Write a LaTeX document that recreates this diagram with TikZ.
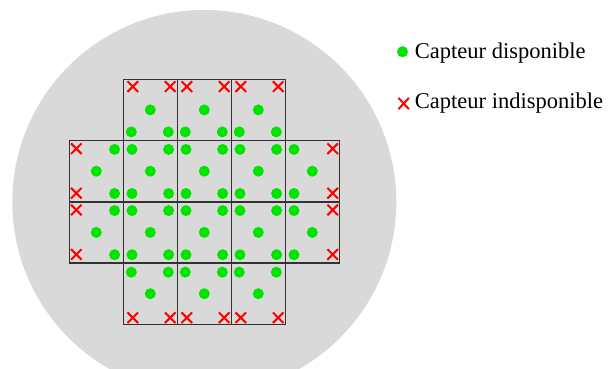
\documentclass[tikz,border=0pt]{standalone}
\usepackage{fontspec}
\setmainfont{Liberation Serif}
\definecolor{disk}{RGB}{217,217,217}
\definecolor{okgreen}{RGB}{0,228,0}
\definecolor{badred}{RGB}{255,0,0}
\definecolor{edge}{RGB}{50,50,50}
\begin{document}
\begin{tikzpicture}[x=1pt,y=-1pt,
  cell/.style={draw=edge,line width=1.5pt},
  okdot/.style={fill=okgreen},
  badx/.style={draw=badred,line width=2pt},
  legend/.style={anchor=base west,inner sep=0pt,font=\fontsize{22.5}{26}\selectfont}]
\useasboundingbox (0,0) rectangle (608,369);
\clip (0,0) rectangle (608,369);
\fill[disk] (204.3,202) circle (192);
% cells: center x, center y, type
\foreach \cx/\cy/\t in {150.3/109.9/T,204.3/109.9/T,258.3/109.9/T,
  96.3/171.2/L,150.3/171.2/N,204.3/171.2/N,258.3/171.2/N,312.3/171.2/R,
  96.3/232.4/L,150.3/232.4/N,204.3/232.4/N,258.3/232.4/N,312.3/232.4/R,
  150.3/293.7/B,204.3/293.7/B,258.3/293.7/B}{
  \draw[cell] (\cx-27,\cy-30.6) rectangle (\cx+27,\cy+30.6);
  \fill[okdot] (\cx,\cy) circle (5.5);
  \if\t T
    \draw[badx] (\cx-17.5-5.3,\cy-23.3-5.3) -- (\cx-17.5+5.3,\cy-23.3+5.3) (\cx-17.5-5.3,\cy-23.3+5.3) -- (\cx-17.5+5.3,\cy-23.3-5.3);
    \draw[badx] (\cx+19.9-5.3,\cy-23.3-5.3) -- (\cx+19.9+5.3,\cy-23.3+5.3) (\cx+19.9-5.3,\cy-23.3+5.3) -- (\cx+19.9+5.3,\cy-23.3-5.3);
    \fill[okdot] (\cx-19,\cy+22) circle (5.5);
    \fill[okdot] (\cx+18,\cy+22) circle (5.5);
  \fi
  \if\t B
    \draw[badx] (\cx-17.5-5.3,\cy+24-5.3) -- (\cx-17.5+5.3,\cy+24+5.3) (\cx-17.5-5.3,\cy+24+5.3) -- (\cx-17.5+5.3,\cy+24-5.3);
    \draw[badx] (\cx+19.9-5.3,\cy+24-5.3) -- (\cx+19.9+5.3,\cy+24+5.3) (\cx+19.9-5.3,\cy+24+5.3) -- (\cx+19.9+5.3,\cy+24-5.3);
    \fill[okdot] (\cx-19,\cy-21.5) circle (5.5);
    \fill[okdot] (\cx+18,\cy-21.5) circle (5.5);
  \fi
  \if\t L
    \draw[badx] (\cx-20-5.3,\cy-22.5-5.3) -- (\cx-20+5.3,\cy-22.5+5.3) (\cx-20-5.3,\cy-22.5+5.3) -- (\cx-20+5.3,\cy-22.5-5.3);
    \draw[badx] (\cx-20-5.3,\cy+22-5.3) -- (\cx-20+5.3,\cy+22+5.3) (\cx-20-5.3,\cy+22+5.3) -- (\cx-20+5.3,\cy+22-5.3);
    \fill[okdot] (\cx+18.3,\cy-21.8) circle (5.5);
    \fill[okdot] (\cx+18.3,\cy+22.3) circle (5.5);
  \fi
  \if\t R
    \draw[badx] (\cx+20.4-5.3,\cy-22.5-5.3) -- (\cx+20.4+5.3,\cy-22.5+5.3) (\cx+20.4-5.3,\cy-22.5+5.3) -- (\cx+20.4+5.3,\cy-22.5-5.3);
    \draw[badx] (\cx+20.4-5.3,\cy+22-5.3) -- (\cx+20.4+5.3,\cy+22+5.3) (\cx+20.4-5.3,\cy+22+5.3) -- (\cx+20.4+5.3,\cy+22-5.3);
    \fill[okdot] (\cx-18.3,\cy-21.8) circle (5.5);
    \fill[okdot] (\cx-18.3,\cy+22.3) circle (5.5);
  \fi
  \if\t N
    \fill[okdot] (\cx-18.3,\cy-21.8) circle (5.5);
    \fill[okdot] (\cx+18.3,\cy-21.8) circle (5.5);
    \fill[okdot] (\cx-18.3,\cy+22.3) circle (5.5);
    \fill[okdot] (\cx+18.3,\cy+22.3) circle (5.5);
  \fi
}
% legend
\fill[okdot] (402.5,51.7) circle (5.5);
\node[legend] (l1) at (414.7,58.6) {Capteur disponible};
\draw[badx] (403.7-5.2,103.5-5.6) -- (403.7+5.2,103.5+5.6) (403.7-5.2,103.5+5.6) -- (403.7+5.2,103.5-5.6);
\node[legend] (l2) at (414.7,108.6) {Capteur indisponible};
\end{tikzpicture}
\end{document}
